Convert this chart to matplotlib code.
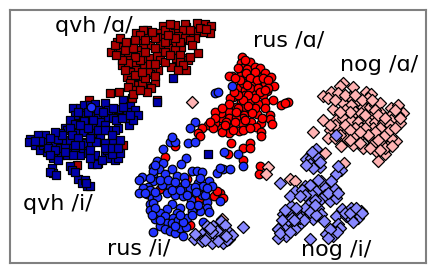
import matplotlib
matplotlib.use("Agg")
import matplotlib.pyplot as plt

qvh_a_x = [136,147,148,163,170,176,186,197,205,211,210,203,196,185,183,178,170,160,172,161,195,190,185,181,198,190,175,168,160,158,150,143,137,130,122,117,125,111,118,122,128,130,122,139,145,150,157,165,175,185,188,186,171,190,158,152,144,136,130,127,131,140,150,155,146,138,130,142,151,135,110,119,132,157,89,140,155,165,120,125,115,135,140,148,160,176,180,123,77,143,152,140,145,135,165,175,200,190,180,165,155,145,135,128,125,135,145,155,165,170,180,150,142,128,122,116,133,120,126,155,147,133,140,183,178,192,206,170,175,168]
qvh_a_y = [33,30,35,26,37,30,27,23,24,26,33,32,32,24,30,36,30,33,42,37,38,36,38,47,53,40,44,48,44,52,45,48,50,45,43,42,46,52,47,55,53,60,65,55,60,58,56,52,50,58,60,70,67,57,70,68,66,68,72,77,80,76,74,82,86,85,83,84,88,90,93,92,98,100,100,40,38,38,52,50,45,62,60,72,60,58,55,145,165,30,32,35,40,40,30,25,28,30,42,42,48,52,57,63,70,75,78,76,62,55,62,64,72,87,60,55,48,38,42,64,92,94,90,65,70,45,29,24,38,35]
qvh_i_x = [73,80,84,90,95,105,123,130,135,127,119,118,110,105,100,97,90,85,75,70,65,75,84,93,100,105,113,118,129,138,115,108,100,92,83,75,67,60,45,38,30,29,35,40,43,50,47,52,60,55,60,65,70,72,70,75,80,83,85,90,95,98,105,107,109,115,118,110,105,115,120,52,70,92,97,78,82,87,90,53,58,83,96,113,88,67,73,53,112,173,157,208,78,88,98,108,116,125,133,123,113,103,93,80,88,70,62,55,50,42,48,55,65,72,78,90,98,105,112,120,105,112,90,80,75,65,50,58,50,56,72,75,85,86,122,130,40,35,118,90,102]
qvh_i_y = [108,108,105,105,104,103,100,106,110,112,115,109,115,117,117,116,116,115,115,120,128,124,121,125,122,125,118,128,125,115,130,130,135,133,132,133,130,133,135,135,139,142,145,150,145,145,152,155,155,142,148,142,140,148,153,150,155,148,142,143,155,163,155,150,158,160,158,143,143,150,153,168,166,164,164,179,183,186,186,173,139,143,142,140,153,155,155,158,154,78,102,154,112,112,110,110,120,118,120,107,108,112,120,125,128,128,135,132,138,142,148,150,148,135,138,138,130,130,135,140,148,148,150,145,145,152,155,160,172,175,170,172,180,183,118,115,141,141,148,158,160]
rus_a_x = [242,241,250,242,247,255,260,241,232,229,240,246,253,260,265,271,248,254,260,265,274,267,240,245,254,263,245,233,230,251,265,273,288,281,285,241,245,236,258,265,257,270,270,272,261,251,244,238,243,229,229,221,221,236,231,242,256,261,239,243,221,229,222,215,215,208,202,213,198,231,228,243,250,250,243,260,259,220,223,261,165,147,190,199,214,217,187,160,175,200,245,238,246,255,250,257,263,268,243,250,258,247,240,235,268,260,255,248,243,238,234,265,255,248,252,245,236,226,215,210,225,235,233,250,262,229,222]
rus_a_y = [57,63,62,68,69,67,68,75,76,76,76,76,75,77,73,77,82,85,83,83,86,91,87,90,93,95,95,97,98,100,102,100,102,105,103,102,107,107,104,108,114,115,119,124,123,122,115,108,118,112,118,118,113,118,125,123,127,132,131,130,128,133,132,112,123,125,128,128,133,143,154,148,143,148,160,166,174,193,198,136,157,194,225,199,196,191,179,189,146,136,60,68,73,72,78,80,78,80,83,88,88,85,80,78,88,92,98,95,100,95,92,90,108,106,113,120,112,122,118,122,125,122,130,128,118,104,108]
rus_i_x = [170,175,188,195,163,186,181,157,163,153,159,172,142,139,153,165,177,184,192,197,202,198,209,212,203,202,207,207,200,209,193,191,183,177,170,162,153,148,143,139,152,157,167,175,183,190,150,153,150,172,180,192,167,177,160,155,165,173,187,167,172,160,165,170,175,180,186,153,183,203,217,190,153,224,238,223,230,220,243,220,195,190,215,172,232,218,91,155,150,160,168,175,185,195,205,198,190,155,160,178,183,150,145,155,172,180,187,196,200,207,152,175,180,192]
rus_i_y = [142,142,143,142,149,158,164,161,163,167,169,169,177,180,174,174,176,177,171,171,172,183,181,186,186,195,202,208,211,212,209,200,188,186,186,185,181,187,188,193,198,197,193,195,196,191,204,203,210,204,208,211,209,213,213,219,216,218,218,223,223,226,229,231,233,228,227,232,236,222,173,188,171,152,154,169,169,168,166,201,122,128,93,137,86,92,107,165,178,180,180,182,183,187,195,205,205,208,220,220,222,190,193,192,190,190,195,192,178,188,215,226,215,215]
nog_a_x = [343,340,353,323,331,328,338,350,366,371,358,368,343,351,363,370,375,380,333,345,355,361,373,381,391,398,403,398,391,391,400,323,336,343,351,358,368,375,383,313,330,338,346,361,373,381,328,341,353,363,346,358,370,381,388,396,378,385,376,391,373,325,344,268,266,290,295,222,278,311,192,335,345,355,362,375,365,350,340,335,345,355,365,378,385,390,395,400,380,375,368,355,340,330,350,360,385,378,385,380,390,372,395,360,370,350,335,392]
nog_a_y = [83,86,87,96,92,98,93,97,92,94,100,98,103,105,107,107,105,103,109,110,112,113,115,113,108,105,113,115,115,120,123,120,120,118,120,122,122,122,123,132,130,130,132,128,128,132,138,146,145,148,138,138,138,141,146,141,161,154,151,138,144,153,163,167,174,179,181,219,229,154,102,100,95,95,100,110,115,112,112,125,125,128,128,115,118,125,110,118,128,132,135,135,135,125,130,132,135,140,148,150,130,100,128,143,148,140,138,146]
nog_i_x = [316,306,311,318,310,320,313,341,336,321,331,280,295,305,316,325,335,311,321,330,336,310,318,291,283,290,298,306,321,313,324,301,293,286,278,295,286,278,310,243,342,351,361,336,346,355,358,351,336,333,326,333,338,221,228,221,229,223,218,194,202,202,208,212,217,207,213,217,336,302,310,318,325,315,305,296,288,300,310,316,285,282,280,290,292,304,328,338,305,345,350,356,362,353,340,337,330,328,225,225,232,227,212,205,210,218,226,195,338,312,320,306,290,300,294,315]
nog_i_y = [149,159,158,158,164,167,168,170,174,181,181,183,191,186,191,188,189,194,199,201,198,203,208,206,214,214,214,213,214,219,221,223,223,226,229,229,236,238,239,227,209,208,211,216,216,214,218,219,226,231,234,236,224,221,231,233,239,243,236,239,234,241,236,243,236,226,226,231,135,190,185,180,195,200,208,208,220,218,212,215,210,220,233,232,218,220,193,193,195,213,213,208,213,222,228,232,229,238,225,235,235,240,232,240,228,241,236,234,166,152,162,165,196,196,220,205]

labels = ["qvh /ɑ/", "rus /ɑ/", "nog /ɑ/", "qvh /i/", "rus /i/", "nog /i/"]
label_x = [55, 253, 340, 23, 107, 301]
label_y = [32, 47, 71, 210, 255, 256]

fig = plt.figure(figsize=(4.36, 2.73), dpi=100)
ax = fig.add_axes([10 / 436, 1 - 263 / 273, 416 / 436, 253 / 273])
ax.set_xlim(10, 426)
ax.set_ylim(263, 10)
kw = dict(edgecolors="black", linewidths=0.9)
ax.scatter(qvh_a_x, qvh_a_y, marker="s", s=40, c="#aa0000", **kw)
ax.scatter(qvh_i_x, qvh_i_y, marker="s", s=40, c="#0000aa", **kw)
ax.scatter(rus_a_x, rus_a_y, marker="o", s=38, c="#ff0000", **kw)
ax.scatter(rus_i_x, rus_i_y, marker="o", s=38, c="#2233ff", **kw)
ax.scatter(nog_a_x, nog_a_y, marker="D", s=38, c="#ffb3b3", **kw)
ax.scatter(nog_i_x, nog_i_y, marker="D", s=38, c="#8888ff", **kw)
for t, x, y in zip(labels, label_x, label_y):
    ax.text(x, y, t, fontsize=16, family="DejaVu Sans", ha="left", va="baseline", color="black")
ax.set_xticks([])
ax.set_yticks([])
for s in ax.spines.values():
    s.set_color("#808080")
    s.set_linewidth(1.5)
fig.savefig("out.png", dpi=100)
